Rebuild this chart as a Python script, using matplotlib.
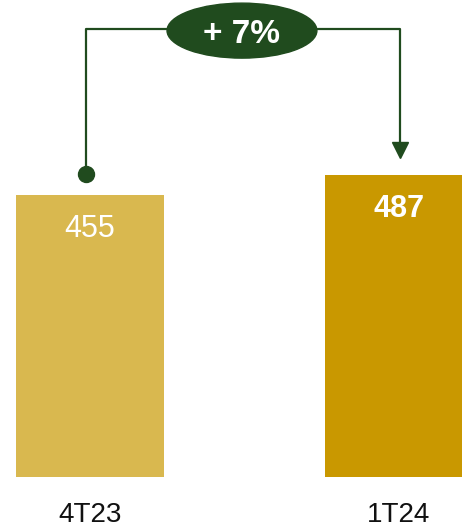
import matplotlib
matplotlib.use("Agg")
import matplotlib.pyplot as plt
from matplotlib.patches import Ellipse

periods = ["4T23", "1T24"]
values = [455, 487]
bar_colors = ["#D9B84F", "#C99800"]
label_weights = ["normal", "bold"]
change_text = "+ 7%"

green = "#204B1E"

fig = plt.figure(figsize=(4.62, 5.30), dpi=100)
ax = fig.add_axes([0, 0, 1, 1])
ax.set_xlim(-0.291, 1.204)
ax.set_ylim(-85.5, 769.4)
ax.axis("off")

x = list(range(len(periods)))
ax.bar(x, values, width=0.479, color=bar_colors)

# value labels inside bars
for xi, v, w in zip(x, values, label_weights):
    ax.text(xi, v - 68, str(v), ha="center", va="baseline", color="white",
            fontsize=22, fontweight=w, family=["Liberation Sans", "DejaVu Sans"])

# period labels below
for xi, p in zip(x, periods):
    ax.text(xi, -83, p, ha="center", va="bottom", color="#111111",
            fontsize=20, family=["Liberation Sans Narrow", "Liberation Sans", "DejaVu Sans"])

# connector from first bar to second
top_y = 722
ax.plot([-0.013, -0.013, 1.003, 1.003], [489, top_y, top_y, 540],
        color=green, lw=1.6, solid_capstyle="butt", zorder=2)
ax.plot(-0.013, 489, "o", color=green, markersize=11.5, zorder=3)
ax.plot(1.003, 528, "v", color=green, markersize=11, zorder=3)

ax.add_patch(Ellipse((0.492, 720), 0.485, 88.7, color=green, zorder=4))
ax.text(0.492, 720, change_text, ha="center", va="center_baseline", color="white",
        fontsize=24, fontweight="bold", family=["Liberation Sans", "DejaVu Sans"],
        zorder=5)

fig.savefig("out.png", dpi=100)
